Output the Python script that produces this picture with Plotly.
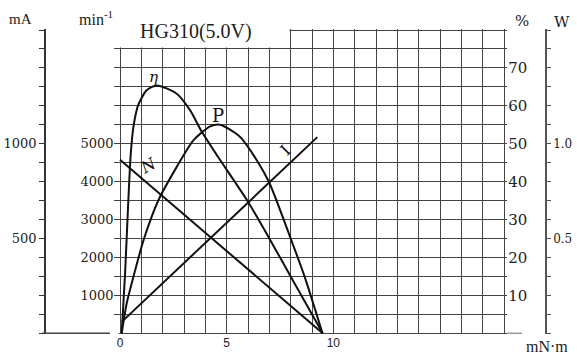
import plotly.graph_objects as go

# ---------------- data ----------------
# Speed N (min^-1) vs torque (mN·m)
TORQUE_N = [0.0, 9.5]
SPEED_RPM = [4580, 0]

# Current I (mA) vs torque
TORQUE_I = [0.08, 9.25]
CURRENT_MA = [60, 1035]

# Efficiency eta (%) vs torque
TORQUE_EFF = [0.08, 0.24, 0.39, 0.5, 0.63, 0.86, 1.25, 1.72, 2.66, 3.29, 3.8, 4.6, 6.0, 7.0, 8.0, 9.5]
EFF_PCT = [0, 16, 35, 47, 54.5, 60.3, 64.1, 65.4, 63.2, 58.8, 53.5, 46.5, 34.7, 25.0, 15.0, 0]

# Output power P (W) vs torque
TORQUE_P = [0.08, 0.31, 0.63, 1.1, 1.8, 2.66, 3.44, 4.23, 4.69, 5.63, 6.42, 7.0, 8.0, 8.65, 9.49]
POWER_W = [0, 0.156, 0.298, 0.49, 0.702, 0.878, 1.018, 1.092, 1.10, 1.036, 0.912, 0.794, 0.50, 0.30, 0]

# tick labels
X_TICKS = [0, 5, 10]
RPM_TICKS = [1000, 2000, 3000, 4000, 5000]
MA_TICKS = [500, 1000]
PCT_TICKS = [10, 20, 30, 40, 50, 60, 70]
W_TICKS = [0.5, 1.0]
W_TICK_TEXT = ["0.5", "1.0"]

TITLE = "HG310(5.0V)"

# ---------------- styling / geometry ----------------
W, H = 577, 356
def px(x):
    return x / W
def py(y):
    return 1 - y / H

GRID = "#444444"
INK = "#111111"
TXT = "#222222"
SERIF = "DejaVu Serif"
SERIF2 = "Liberation Serif"

X_DOMAIN = [px(113.6), px(507.2)]
Y_DOMAIN = [py(334.4), py(28.9)]

line_style = dict(color=INK, width=2)

fig = go.Figure()
fig.add_trace(go.Scatter(x=TORQUE_N, y=SPEED_RPM, yaxis="y2", mode="lines",
                         line=line_style, hoverinfo="skip"))
fig.add_trace(go.Scatter(x=TORQUE_I, y=CURRENT_MA, yaxis="y3", mode="lines",
                         line=line_style, hoverinfo="skip"))
fig.add_trace(go.Scatter(x=TORQUE_EFF, y=EFF_PCT, yaxis="y", mode="lines",
                         line=dict(color=INK, width=2, shape="spline", smoothing=0.7),
                         hoverinfo="skip"))
fig.add_trace(go.Scatter(x=TORQUE_P, y=POWER_W, yaxis="y4", mode="lines",
                         line=dict(color=INK, width=2, shape="spline", smoothing=0.7),
                         hoverinfo="skip"))

fig.update_layout(
    width=W, height=H,
    margin=dict(l=0, r=0, t=0, b=0),
    paper_bgcolor="white", plot_bgcolor="white",
    showlegend=False,
    xaxis=dict(
        domain=X_DOMAIN, range=[-0.3, 18.15],
        tickmode="array", tickvals=X_TICKS,
        showgrid=True, gridcolor=GRID, gridwidth=1.2,
        minor=dict(tickmode="linear", tick0=0, dtick=1, showgrid=True,
                   gridcolor=GRID, gridwidth=1.2),
        zeroline=False, showline=False, ticks="",
        tickfont=dict(family="Liberation Sans", size=12, color=TXT),
        fixedrange=True,
    ),
    yaxis=dict(
        domain=Y_DOMAIN, range=[-0.3, 80.3],
        anchor="free", position=px(507.2), side="right",
        tickmode="array", tickvals=PCT_TICKS,
        showgrid=True, gridcolor=GRID, gridwidth=1.2,
        minor=dict(tickmode="linear", tick0=0, dtick=5, showgrid=True,
                   gridcolor=GRID, gridwidth=1.2),
        zeroline=False, showline=False, ticks="",
        tickfont=dict(family=SERIF, size=15, color=TXT),
        fixedrange=True,
    ),
    yaxis2=dict(
        overlaying="y", range=[-30, 8030],
        anchor="free", position=px(113.6), side="left",
        tickmode="array", tickvals=RPM_TICKS,
        showgrid=False, zeroline=False, showline=False, ticks="",
        tickfont=dict(family=SERIF, size=13, color=TXT),
        fixedrange=True,
    ),
    yaxis3=dict(
        overlaying="y", range=[-6, 1606],
        anchor="free", position=px(45), side="left",
        tickmode="array", tickvals=MA_TICKS,
        showgrid=False, zeroline=False,
        showline=True, linecolor="#333", linewidth=1.5,
        ticks="outside", ticklen=5, tickcolor="#333", tickwidth=1.2,
        minor=dict(tickmode="linear", tick0=0, dtick=100, ticks="outside",
                   ticklen=5, tickcolor="#333", tickwidth=1.2),
        tickfont=dict(family=SERIF, size=13, color=TXT),
        fixedrange=True,
    ),
    yaxis4=dict(
        overlaying="y", range=[-0.006, 1.606],
        anchor="free", position=px(546), side="right",
        tickmode="array", tickvals=W_TICKS, ticktext=W_TICK_TEXT,
        showgrid=False, zeroline=False,
        showline=True, linecolor="#555", linewidth=1.5,
        ticks="outside", ticklen=4, tickcolor="#555", tickwidth=1.2,
        minor=dict(tickmode="linear", tick0=0, dtick=0.1, ticks="outside",
                   ticklen=4, tickcolor="#555", tickwidth=1.2),
        tickfont=dict(family=SERIF, size=12, color=TXT),
        fixedrange=True,
    ),
)

shapes = [
    # cut-out of the grid behind the title (upper-left)
    dict(type="rect", xref="x", yref="y", x0=-0.4, x1=7.95, y0=75.4, y1=81,
         fillcolor="white", line=dict(width=0), layer="above"),
    # small gap left of the origin
    dict(type="rect", xref="x", yref="y", x0=-0.4, x1=-0.06, y0=-0.6, y1=0.6,
         fillcolor="white", line=dict(width=0), layer="above"),
    # baseline under the mA axis
    dict(type="line", xref="paper", yref="paper", x0=px(42), x1=px(110),
         y0=py(333.3), y1=py(333.3), line=dict(color="#444", width=1.5)),
    # baseline extension to the right
    dict(type="line", xref="paper", yref="paper", x0=px(507), x1=px(522),
         y0=py(333.3), y1=py(333.3), line=dict(color="#999", width=1.5)),
]

ann = [
    dict(text=TITLE, x=px(138), y=py(31.5), xanchor="left", yanchor="middle",
         font=dict(family=SERIF2, size=20, color=TXT)),
    dict(text="mA", x=px(7), y=py(19), xanchor="left", yanchor="middle",
         font=dict(family=SERIF2, size=15, color=TXT)),
    dict(text="min<sup>-1</sup>", x=px(77), y=py(18), xanchor="left", yanchor="middle",
         font=dict(family=SERIF2, size=16, color=TXT)),
    dict(text="%", x=px(521.5), y=py(20.5), xanchor="center", yanchor="middle",
         font=dict(family=SERIF, size=15, color=TXT)),
    dict(text="W", x=px(561.5), y=py(22), xanchor="center", yanchor="middle",
         font=dict(family=SERIF, size=15, color=TXT)),
    dict(text="mN·m", x=px(547), y=py(346), xanchor="center", yanchor="middle",
         font=dict(family=SERIF2, size=16, color=TXT)),
    # curve labels
    dict(text="<i>η</i>", x=px(153), y=py(77), xanchor="center", yanchor="middle",
         font=dict(family=SERIF, size=15, color=INK)),
    dict(text="P", x=px(218), y=py(115), xanchor="center", yanchor="middle",
         font=dict(family=SERIF, size=18, color=INK)),
    dict(text="<i>N</i>", x=px(148), y=py(165), xanchor="center", yanchor="middle",
         textangle=-30, font=dict(family=SERIF, size=16, color=INK)),
    dict(text="I", x=px(285), y=py(150), xanchor="center", yanchor="middle",
         textangle=-45, font=dict(family=SERIF, size=16, color=INK)),
]
for a in ann:
    a.update(xref="paper", yref="paper", showarrow=False)

fig.update_layout(shapes=shapes, annotations=ann)

fig.write_html(
    "out.html",
    config={"displayModeBar": False},
    post_script="document.body.style.margin='0';document.body.style.overflow='hidden';",
)
